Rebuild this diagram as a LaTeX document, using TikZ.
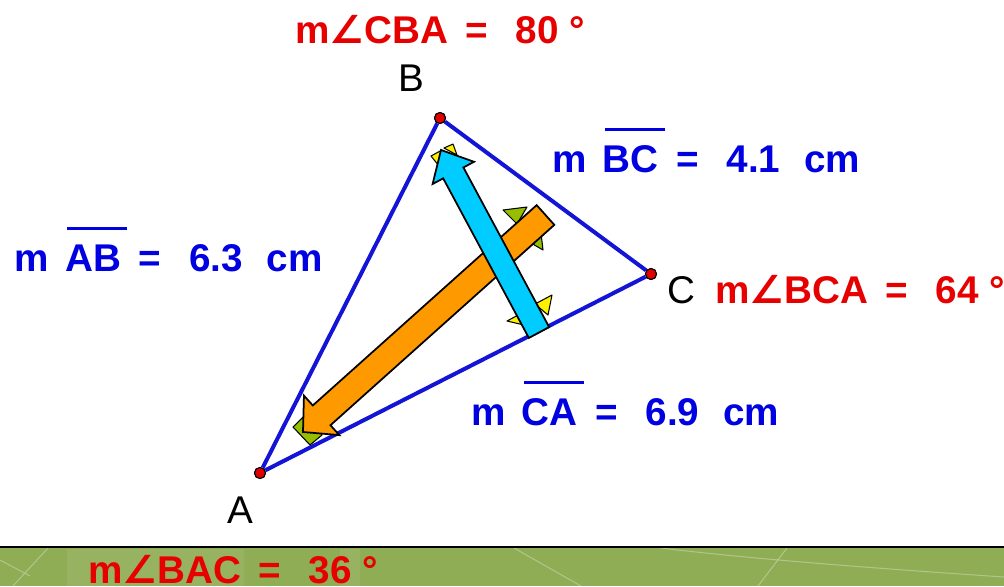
\documentclass[tikz,border=0pt]{standalone}
\usepackage{fontspec}
\setmainfont{Liberation Sans}
\newfontfamily\symfont{DejaVu Sans}
\usetikzlibrary{calc}
\definecolor{segblue}{RGB}{0,0,225}
\definecolor{lineblue}{RGB}{20,20,215}
\definecolor{angred}{RGB}{230,0,0}
\definecolor{ptred}{RGB}{225,0,0}
\definecolor{vcyan}{RGB}{0,204,255}
\definecolor{vorange}{RGB}{255,153,0}
\definecolor{vgreen}{RGB}{150,190,0}
\definecolor{vyellow}{RGB}{255,240,0}
\definecolor{bandgreen}{RGB}{143,173,85}
\newcommand{\seg}[1]{\setbox0=\hbox{#1}\rlap{\hspace{0.05em}\raisebox{1.05em}{\rule{\dimexpr\wd0+0.1em\relax}{0.08em}}}\box0}
\newcommand{\ang}{{\symfont ∠}}
\newcommand{\fatarrow}[6]{%
  \path ($(#2)!#5!(#1)$) coordinate (hb);
  \filldraw[#6] ($(#1)!#3!90:(#2)$) -- ($(hb)!#3!90:(#2)$) -- ($(hb)!#4!90:(#2)$) -- (#2)
    -- ($(hb)!#4!-90:(#2)$) -- ($(hb)!#3!-90:(#2)$) -- ($(#1)!#3!-90:(#2)$) -- cycle;}
\tikzset{
  side/.style={draw=lineblue, line width=0.08cm},
  vtx/.style={circle, draw=black, fill=ptred, line width=0.6pt, inner sep=0pt, minimum size=0.22cm},
  meas/.style={font=\fontsize{22}{26}\selectfont\bfseries, inner sep=0pt, anchor=base west},
  seglab/.style={meas, text=segblue},
  anglab/.style={meas, text=angred},
  ptlab/.style={font=\fontsize{22}{26}\selectfont, inner sep=0pt, anchor=base},
  fat/.style={draw=black, line width=0.035cm, line join=miter},
  tick/.style={draw=black, line width=0.6pt, line join=round},
}

\begin{document}
\begin{tikzpicture}[x=0.02cm, y=-0.02cm]
  \useasboundingbox (0,0) rectangle (1004,586);
  % band at the bottom
  \fill[bandgreen] (0,547) rectangle (1004,586);
  \fill[white, opacity=0.08] (67,549) rectangle (244,586) (340,549) rectangle (360,586);
  \draw[white, opacity=0.3, line width=0.6pt] (48,548) -- (13,586) (514,548) -- (581,586)
    (787,548) -- (758,586) (0,560) -- (30,576);
  \draw[white, opacity=0.3, line width=0.6pt] (661,548) .. controls (760,560) and (900,570) .. (1004,577);
  \draw[black, line width=0.05cm] (0,547) -- (1004,547);

  % triangle
  \node[vtx] (A) at (260,473) {};
  \node[vtx] (B) at (440,118) {};
  \node[vtx] (C) at (651,274) {};
  \draw[side] (A) -- (B);
  \draw[side] (B) -- (C);
  \draw[side] (C) -- (A);
  \node[vtx] at (A) {};
  \node[vtx] at (B) {};
  \node[vtx] at (C) {};

  % orange vector
  \coordinate (ot) at (545.5,215);
  \coordinate (oh) at (303,432);
  \filldraw[tick, fill=vgreen] (503,210) -- (527,207) -- (517,224) -- cycle;
  \filldraw[tick, fill=vgreen] (531,243) -- (543,250) -- (541,233) -- cycle;
  \filldraw[tick, fill=vgreen] (476,262) -- (516,225) -- (522,231) -- (482,268) -- cycle;
  \filldraw[tick, fill=vgreen] (293,427) -- (305,415) -- (322,435) -- (310,445) -- cycle;
  \fatarrow{ot}{oh}{0.265cm}{0.53cm}{0.5cm}{fat, fill=vorange}

  % cyan vector
  \coordinate (ct) at (539,332.5);
  \coordinate (ch) at (441,150);
  \filldraw[tick, fill=vyellow] (507,321) -- (522,313) -- (524,325) -- cycle;
  \filldraw[tick, fill=vyellow] (535,304) -- (552,295) -- (548,315) -- cycle;
  \filldraw[tick, fill=vyellow] (431,156) -- (442,150) -- (439,166) -- cycle;
  \filldraw[tick, fill=vyellow] (444,148) -- (453,144) -- (457,155) -- cycle;
  \fatarrow{ct}{ch}{0.23cm}{0.47cm}{0.52cm}{fat, fill=vcyan}

  % point names
  \node[ptlab] (nA) at (240.5,523) {A};
  \node[ptlab] (nB) at (411,91) {B};
  \node[ptlab] (nC) at (681,303) {C};

  % measures
  \node[seglab] (mAB) at (14.5,271) {m\hspace{0.42em}\seg{AB}\hspace{0.45em}=\hspace{0.72em}6.3\hspace{0.62em}cm};
  \node[seglab] (mBC) at (552,172) {m\hspace{0.42em}\seg{BC}\hspace{0.45em}=\hspace{0.72em}4.1\hspace{0.62em}cm};
  \node[seglab] (mCA) at (471,425) {m\hspace{0.42em}\seg{CA}\hspace{0.45em}=\hspace{0.72em}6.9\hspace{0.62em}cm};
  \node[anglab] (aB) at (295,43) {m\ang CBA\hspace{0.45em}=\hspace{0.72em}80\hspace{0.28em}°};
  \node[anglab] (aC) at (715,303) {m\ang BCA\hspace{0.45em}=\hspace{0.72em}64\hspace{0.28em}°};
  \node[anglab] (aA) at (88,583) {m\ang BAC\hspace{0.45em}=\hspace{0.72em}36\hspace{0.28em}°};
\end{tikzpicture}
\end{document}
